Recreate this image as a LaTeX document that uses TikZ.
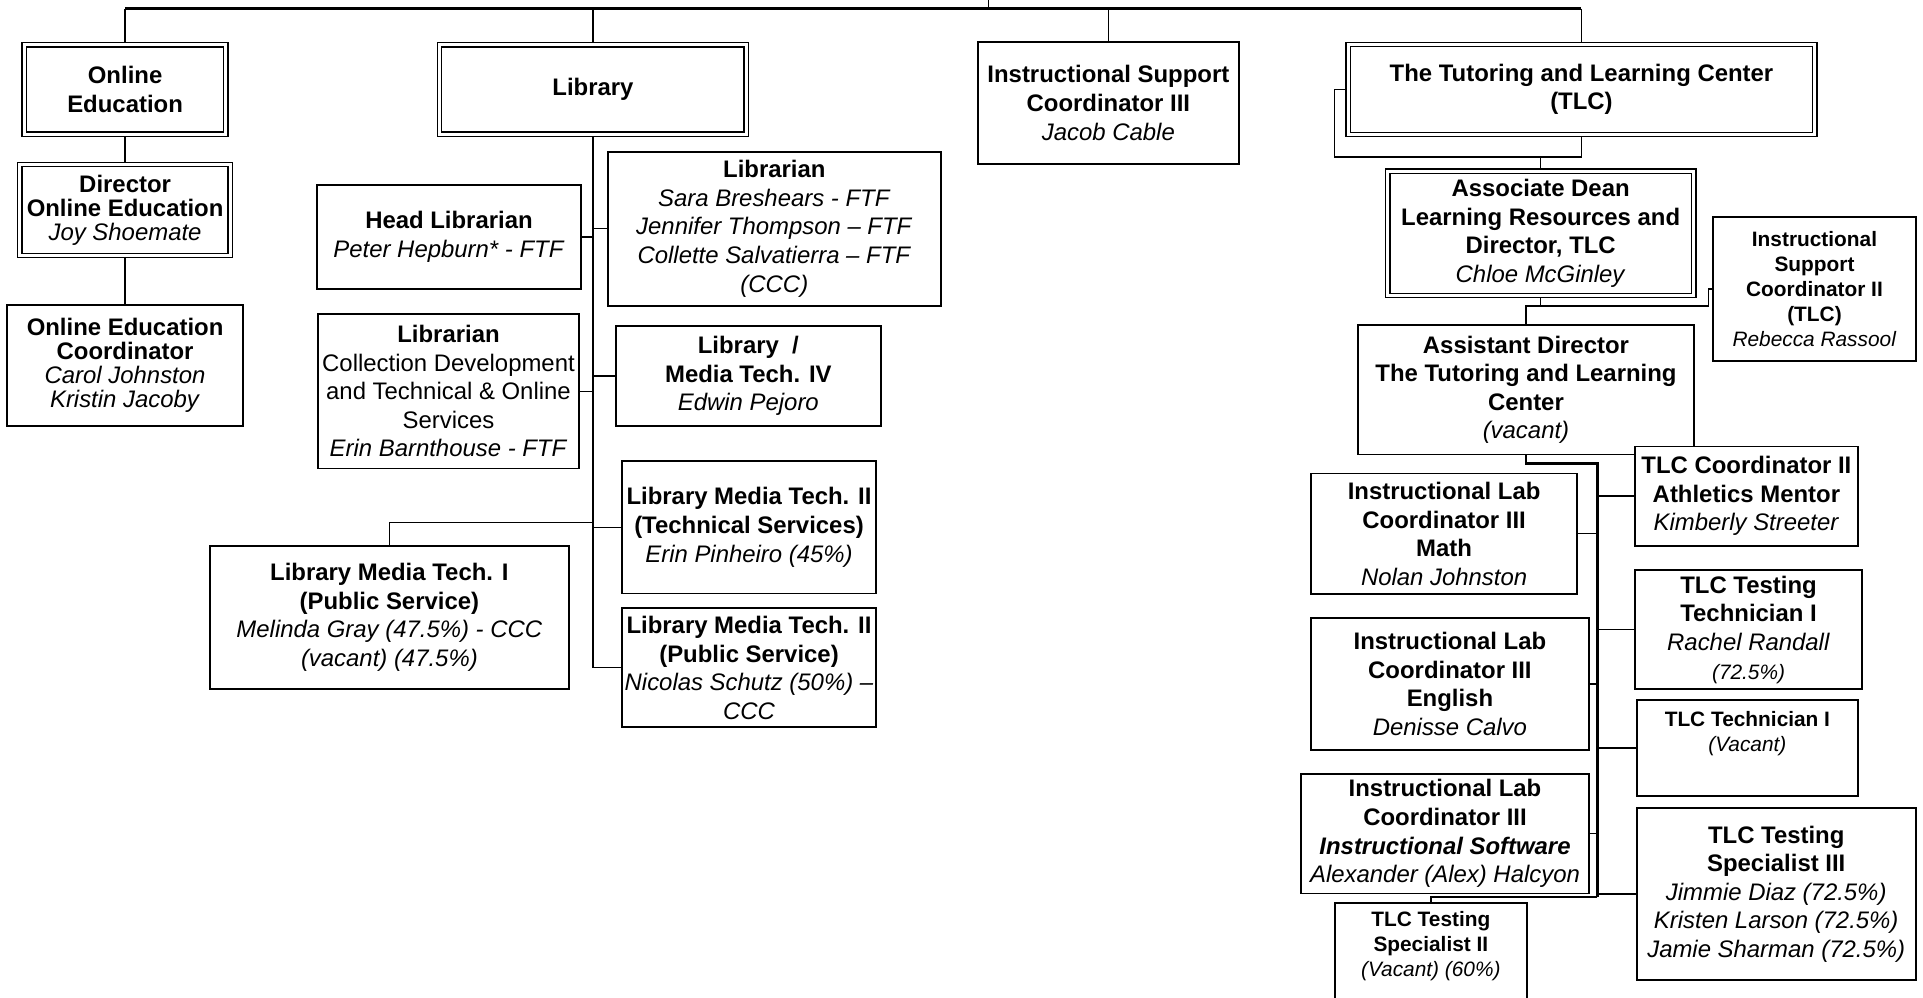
\documentclass[tikz,border=0pt]{standalone}
\usepackage{fontspec}
\setmainfont{Liberation Sans}
\usepackage{tikz}
\tikzset{x=1pt, y=-1pt}
\tikzset{box/.style={draw,line width=1.4pt,fill=white,inner sep=0pt,align=center,font=\fontsize{19.5}{23.3}\selectfont}}
\tikzset{dbl/.style={box,double,double distance=2.4pt,line width=1.1pt}}
\tikzset{tight/.style={font=\fontsize{19.5}{19.5}\selectfont}}
\tikzset{smallbox/.style={font=\fontsize{17}{20.5}\selectfont}}
\tikzset{link/.style={line width=1.1pt}}
\tikzset{bus/.style={line width=2.2pt}}
\pgfdeclarelayer{edgelayer}
\pgfsetlayers{edgelayer,main}

\begin{document}
\begin{tikzpicture}
  \useasboundingbox (0,0) rectangle (1568,813);

  % online education
  \node[dbl,minimum width=164.5pt,minimum height=73pt] (onlineed) at (102,73)
    {\textbf{Online}\\\textbf{Education}};
  \node[dbl,tight,minimum width=171.5pt,minimum height=74pt] (director) at (102,171.25)
    {\textbf{Director}\\\textbf{Online Education}\\\textit{Joy Shoemate}};
  \node[box,tight,minimum width=192.4pt,minimum height=98.7pt] (oecoord) at (102,298)
    {\textbf{Online Education}\\\textbf{Coordinator}\\\textit{Carol Johnston}\\\textit{Kristin Jacoby}};

  % library
  \node[dbl,minimum width=250pt,minimum height=73pt] (library) at (483.5,73) {\textbf{Library}};
  \node[box,minimum width=215.2pt,minimum height=84.9pt] (headlib) at (366.1,193.25)
    {\textbf{Head Librarian}\\\textit{Peter Hepburn* - FTF}};
  \node[box,minimum width=271.2pt,minimum height=125.5pt] (librarian) at (631.4,186.5)
    {\textbf{Librarian}\\\textit{Sara Breshears - FTF}\\\textit{Jennifer Thompson – FTF}\\\textit{Collette Salvatierra – FTF}\\\textit{(CCC)}};
  \node[box,minimum width=212.8pt,minimum height=126pt] (libcd) at (365.7,319)
    {\textbf{Librarian}\\Collection Development\\and Technical \& Online\\Services\\\textit{Erin Barnthouse - FTF}};
  \node[box,minimum width=215.8pt,minimum height=81.6pt] (mediaiv) at (610.2,306.6)
    {\textbf{Library\ \ /}\\\textbf{Media Tech. IV}\\\textit{Edwin Pejoro}};
  \node[box,minimum width=207.5pt,minimum height=108pt] (lmttech) at (610.75,430)
    {\textbf{Library Media Tech. II}\\\textbf{(Technical Services)}\\\textit{Erin Pinheiro (45\%)}};
  \node[box,minimum width=293pt,minimum height=117pt] (lmtone) at (317.5,503.5)
    {\textbf{Library Media Tech. I}\\\textbf{(Public Service)}\\\textit{Melinda Gray (47.5\%) - CCC}\\\textit{(vacant) (47.5\%)}};
  \node[box,minimum width=207.5pt,minimum height=97pt] (lmtpub) at (610.75,544.5)
    {\textbf{Library Media Tech. II}\\\textbf{(Public Service)}\\\textit{Nicolas Schutz (50\%) –}\\\textit{CCC}};

  % instructional support
  \node[box,minimum width=213pt,minimum height=99pt] (iscthree) at (903.75,84)
    {\textbf{Instructional Support}\\\textbf{Coordinator III}\\\textit{Jacob Cable}};

  % tutoring and learning center
  \node[dbl,minimum width=380.5pt,minimum height=73.5pt] (tlc) at (1289.5,73)
    {\textbf{The Tutoring and Learning Center}\\\textbf{(TLC)}};
  \node[dbl,minimum width=249.5pt,minimum height=101.5pt] (assocdean) at (1256.25,190.25)
    {\textbf{Associate Dean}\\\textbf{Learning Resources and}\\\textbf{Director, TLC}\\\textit{Chloe McGinley}};
  \node[box,smallbox,minimum width=165pt,minimum height=117.5pt] (isctwo) at (1479.5,235.75)
    {\textbf{Instructional}\\\textbf{Support}\\\textbf{Coordinator II}\\\textbf{(TLC)}\\\textit{Rebecca Rassool}};
  \node[box,minimum width=274.5pt,minimum height=105.5pt] (asstdir) at (1244.25,317.75)
    {\textbf{Assistant Director}\\\textbf{The Tutoring and Learning}\\\textbf{Center}\\\textit{(vacant)}};
  \node[box,minimum width=182pt,minimum height=81pt] (tlccoord) at (1424,404.5)
    {\textbf{TLC Coordinator II}\\\textbf{Athletics Mentor}\\\textit{Kimberly Streeter}};
  \node[box,minimum width=217pt,minimum height=98.5pt] (labmath) at (1177.5,435.25)
    {\textbf{Instructional Lab}\\\textbf{Coordinator III}\\\textbf{Math}\\\textit{Nolan Johnston}};
  \node[box,minimum width=185.5pt,minimum height=97pt] (testtech) at (1425.75,513.5)
    {\textbf{TLC Testing}\\\textbf{Technician I}\\\textit{Rachel Randall}\\{\fontsize{17}{20.5}\selectfont\textit{(72.5\%)}}};
  \node[box,minimum width=226.5pt,minimum height=107.5pt] (labeng) at (1182.25,557.75)
    {\textbf{Instructional Lab}\\\textbf{Coordinator III}\\\textbf{English}\\\textit{Denisse Calvo}};
  \node[box,smallbox,minimum width=180.4pt,minimum height=78pt] (technician) at (1424.8,610)
    {\textbf{TLC Technician I}\\\textit{(Vacant)}\\\strut};
  \node[box,minimum width=234.5pt,minimum height=97.5pt] (labsoft) at (1178.25,679.75)
    {\textbf{Instructional Lab}\\\textbf{Coordinator III}\\\textbf{\textit{Instructional Software}}\\\textit{Alexander (Alex) Halcyon}};
  \node[box,minimum width=227.4pt,minimum height=140pt] (specthree) at (1448.3,729)
    {\textbf{TLC Testing}\\\textbf{Specialist III}\\\textit{Jimmie Diaz (72.5\%)}\\\textit{Kristen Larson (72.5\%)}\\\textit{Jamie Sharman (72.5\%)}};
  \node[box,smallbox,minimum width=156.6pt,minimum height=93.5pt] (spectwo) at (1166.7,783.25)
    {\textbf{TLC Testing}\\\textbf{Specialist II}\\\textit{(Vacant) (60\%)}\\\strut};

  \coordinate (root) at (806,0);
  \coordinate (top) at (806,7);
  \coordinate (lmtjoin) at (483.5,426);
  \coordinate (tlcjoin) at (1289.5,128);
  \coordinate (adjoin) at (1256.25,249.5);
  \coordinate (asjoin) at (1302.5,377.75);
  \coordinate (spend) at (1302.5,731.5);

  \begin{pgfonlayer}{edgelayer}
    \draw[bus] (onlineed.north |- top) -- (tlc.north |- top);
    \draw[link] (root) -- (top);
    \foreach \n in {onlineed,library,iscthree,tlc}
      \draw[link] (\n.north |- top) -- (\n.north);
    \draw[link] (onlineed.south) -- (director.north);
    \draw[link] (director.south) -- (oecoord.north);
    % library branch
    \draw[link] (library.south) -- (library.south |- lmtpub.west) -- (lmtpub.west);
    \foreach \n in {headlib,libcd}
      \draw[link] (\n.east) -- (\n.east -| library.south);
    \foreach \n in {librarian,mediaiv,lmttech}
      \draw[link] (\n.west) -- (\n.west -| library.south);
    \draw[link] (lmtone.north) |- (lmtjoin);
    % tlc branch
    \draw[link] (tlc.south) -- (tlcjoin) -| ([xshift=-10.5pt]tlc.west) -- (tlc.west);
    \draw[link] (assocdean.north) -- (assocdean.north |- tlcjoin);
    \draw[link] (assocdean.south) -- (adjoin);
    \draw[link] (asstdir.north) |- (adjoin) -| ([xshift=-3pt]isctwo.west) -- (isctwo.west);
    \draw[bus] (asstdir.south) |- (asjoin) -- (spend);
    \draw[link] (spend) -| (spectwo.north);
    \foreach \n in {tlccoord,testtech,technician,specthree}
      \draw[link] (\n.west) -- (\n.west -| asjoin);
    \foreach \n in {labmath,labeng,labsoft}
      \draw[link] (\n.east) -- (\n.east -| asjoin);
  \end{pgfonlayer}
\end{tikzpicture}
\end{document}
